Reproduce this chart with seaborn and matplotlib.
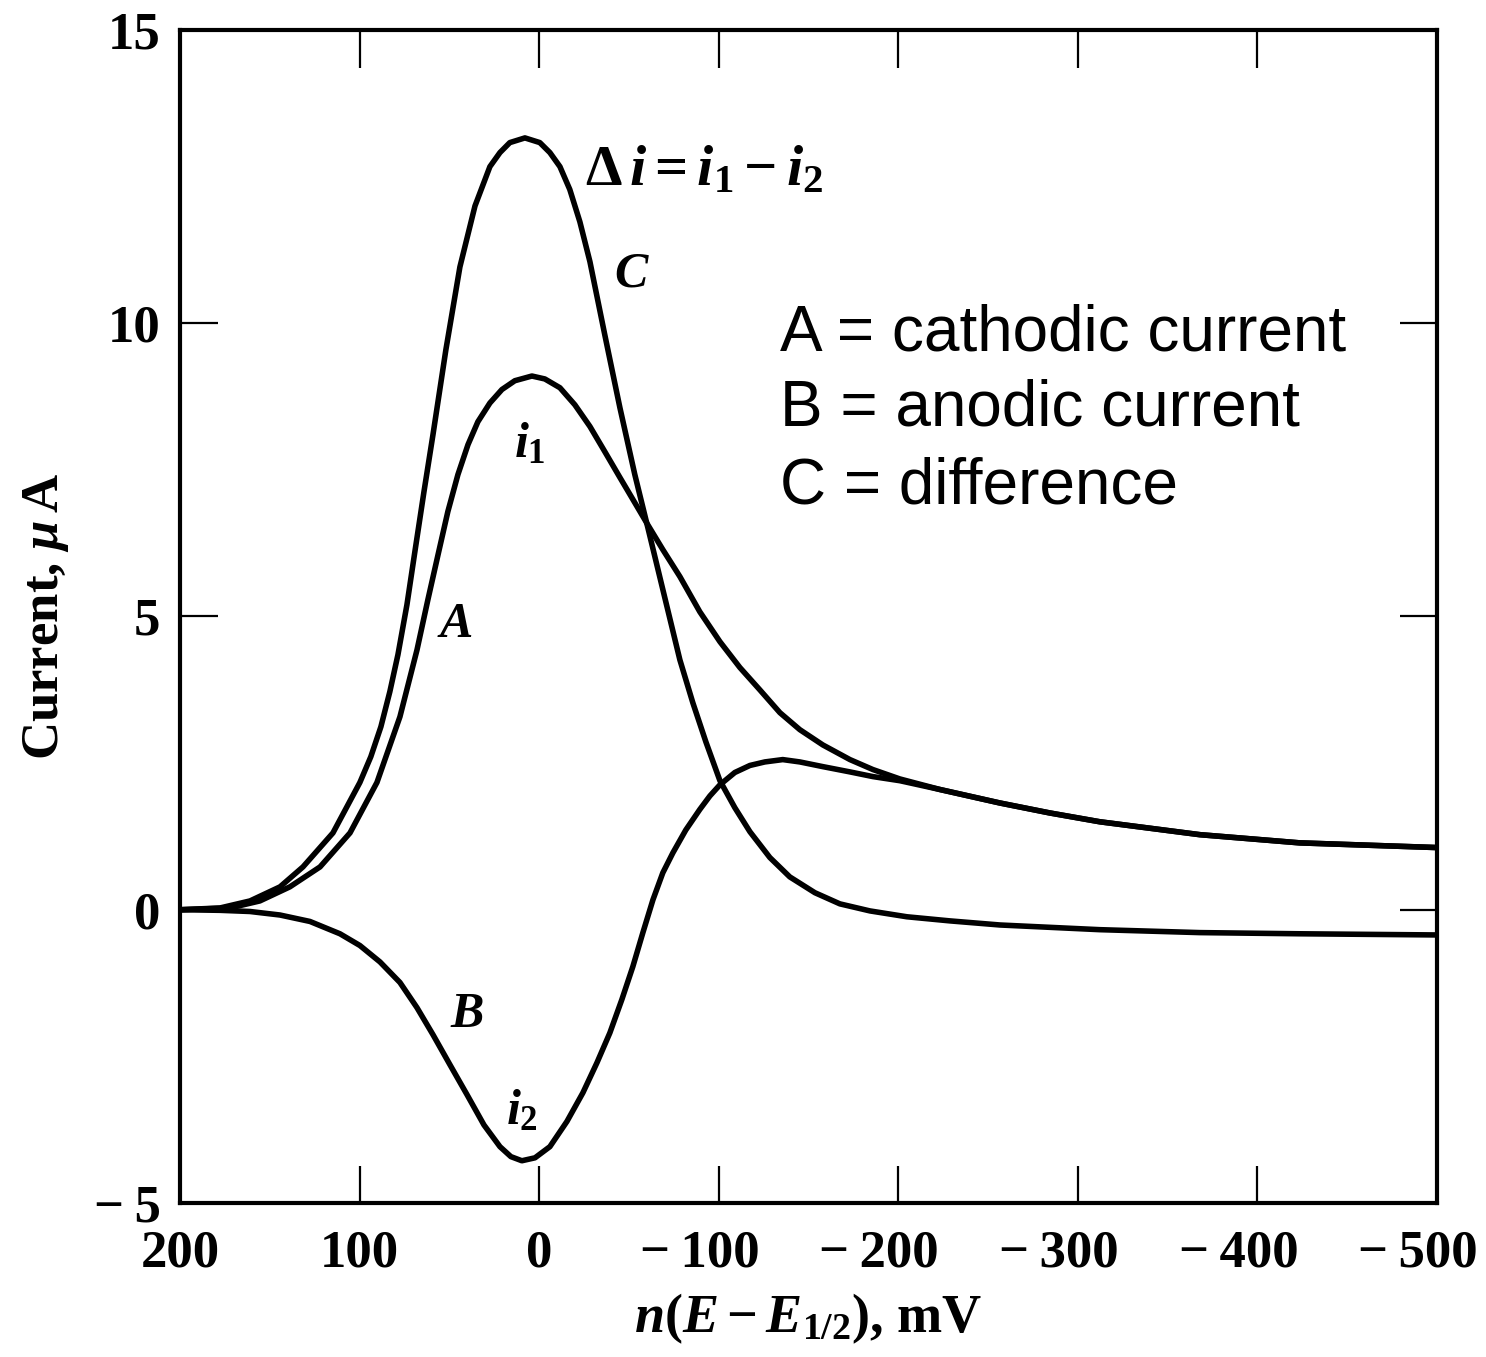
import matplotlib
matplotlib.use("Agg")
import matplotlib.pyplot as plt
import matplotlib.transforms as mtransforms
import seaborn as sns
import pandas as pd

# ---- data (x in mV, y in µA) ----
x_A = [200, 172.2, 155.5, 138.8, 122.0, 105.3, 90.3, 77.5, 68.0, 61.9,
       56.3, 50.8, 45.2, 39.6, 34.1, 27.4, 20.7, 13.5, 4.0, -3.2,
       -11.6, -19.9, -28.3, -36.6, -45.0, -53.3, -60.6, -68.9, -78.4, -89.5,
       -100.7, -111.8, -122.9, -134.1, -145.2, -158.0, -173.1, -185.9, -200.9, -223.2,
       -256.6, -284.4, -312.2, -367.9, -423.6, -500]
y_A = [0, 0.03, 0.15, 0.39, 0.73, 1.31, 2.17, 3.29, 4.43, 5.29,
       6.05, 6.79, 7.42, 7.93, 8.32, 8.64, 8.87, 9.02, 9.10, 9.05,
       8.90, 8.61, 8.24, 7.81, 7.37, 6.94, 6.56, 6.14, 5.68, 5.08,
       4.57, 4.13, 3.75, 3.36, 3.07, 2.81, 2.56, 2.39, 2.23, 2.05,
       1.82, 1.65, 1.50, 1.28, 1.14, 1.06]

x_B = [200, 177.7, 161.0, 144.3, 127.6, 110.9, 99.8, 88.6, 77.5, 68.0,
       59.1, 49.7, 40.2, 30.7, 21.8, 15.7, 9.6, 2.3, -6.0, -15.5,
       -24.4, -32.2, -39.4, -46.1, -52.2, -57.8, -63.4, -68.9, -74.5, -81.7,
       -89.5, -95.1, -100.7, -109.0, -117.4, -125.7, -135.7, -145.2, -158.0, -173.1,
       -185.9, -200.9, -223.2, -256.6, -284.4, -312.2, -367.9, -423.6, -500]
y_B = [0, -0.01, -0.03, -0.09, -0.20, -0.41, -0.61, -0.89, -1.24, -1.67,
       -2.13, -2.64, -3.15, -3.67, -4.04, -4.21, -4.28, -4.23, -4.04, -3.61,
       -3.12, -2.61, -2.10, -1.53, -0.97, -0.39, 0.17, 0.63, 0.97, 1.36,
       1.71, 1.94, 2.13, 2.34, 2.46, 2.52, 2.56, 2.52, 2.44, 2.35,
       2.27, 2.20, 2.05, 1.82, 1.65, 1.50, 1.28, 1.14, 1.06]

x_C = [200, 177.7, 161.0, 144.3, 131.5, 114.8, 99.8, 93.7, 88.1, 83.1,
       78.6, 73.6, 69.2, 64.1, 59.1, 51.9, 44.1, 35.7, 27.4, 21.8,
       16.3, 7.9, -0.4, -6.0, -11.6, -17.1, -22.7, -28.3, -36.6, -45.0,
       -53.3, -60.6, -68.9, -78.4, -85.6, -92.9, -100.7, -109.0, -117.4, -128.5,
       -139.6, -153.6, -167.5, -184.2, -204.8, -228.7, -256.6, -312.2, -367.9, -423.6,
       -500]
y_C = [0, 0.03, 0.15, 0.39, 0.73, 1.31, 2.17, 2.61, 3.12, 3.72,
       4.35, 5.20, 6.10, 7.13, 8.10, 9.55, 10.96, 12.00, 12.67, 12.91,
       13.08, 13.16, 13.08, 12.91, 12.67, 12.28, 11.73, 11.05, 9.80, 8.56,
       7.42, 6.51, 5.46, 4.26, 3.53, 2.86, 2.20, 1.74, 1.33, 0.89,
       0.56, 0.29, 0.10, -0.02, -0.12, -0.19, -0.26, -0.34, -0.39, -0.41,
       -0.43]

x_ticks = [200, 100, 0, -100, -200, -300, -400, -500]
x_ticklabels = ["200", "100", "0", "\u2212\u2009100", "\u2212\u2009200",
                "\u2212\u2009300", "\u2212\u2009400", "\u2212\u2009500"]
y_ticks = [-5, 0, 5, 10, 15]
y_ticklabels = ["\u2212\u20095", "0", "5", "10", "15"]

legend_lines = ["A = cathodic current", "B = anodic current", "C = difference"]

# ---- build long table ----
df = pd.concat([
    pd.DataFrame({"E": x_A, "I": y_A, "curve": "A"}),
    pd.DataFrame({"E": x_B, "I": y_B, "curve": "B"}),
    pd.DataFrame({"E": x_C, "I": y_C, "curve": "C"}),
], ignore_index=True)

sns.set_style("ticks")
plt.rcParams["font.family"] = ["Liberation Serif", "DejaVu Serif"]
plt.rcParams["mathtext.fontset"] = "custom"
plt.rcParams["mathtext.rm"] = "Liberation Serif:bold"
plt.rcParams["mathtext.it"] = "Liberation Serif:italic:bold"
plt.rcParams["mathtext.bf"] = "Liberation Serif:bold"
for k in ["text.color", "axes.labelcolor", "xtick.color", "ytick.color", "axes.edgecolor"]:
    plt.rcParams[k] = "black"

fig = plt.figure(figsize=(14.86, 13.57), dpi=100)
ax = fig.add_axes([0.1211, 0.1135, 0.8459, 0.8644])

sns.lineplot(data=df, x="E", y="I", hue="curve", palette=["black"] * 3,
             sort=False, estimator=None, legend=False, linewidth=4.0, ax=ax)
for ln in ax.get_lines():
    ln.set_solid_joinstyle("round")
    ln.set_solid_capstyle("round")

ax.set_xlim(200, -500)
ax.set_ylim(-5, 15)
ax.set_xticks(x_ticks)
ax.set_xticklabels(x_ticklabels)
ax.set_yticks(y_ticks)
ax.set_yticklabels(y_ticklabels)

for s in ax.spines.values():
    s.set_visible(True)
    s.set_linewidth(3)
    s.set_color("black")

ax.tick_params(axis="both", direction="in", length=27, width=1.6, color="black",
               top=True, right=True, labelsize=38)
ax.tick_params(axis="x", pad=19)
ax.tick_params(axis="y", pad=14)
for lab in ax.get_xticklabels() + ax.get_yticklabels():
    lab.set_fontweight("bold")

# keep the digits of negative labels centred on their ticks (minus hangs left)
shift = mtransforms.ScaledTranslation(-0.19, 0, fig.dpi_scale_trans)
for lab, txt in zip(ax.get_xticklabels(), x_ticklabels):
    if txt.startswith("\u2212"):
        lab.set_transform(lab.get_transform() + shift)

ax.set_xlabel(r"$n(E-E_{1/2})$, mV", fontsize=39, fontweight="bold", labelpad=10)
ax.set_ylabel(r"Current, $\mu\,$A", fontsize=38, fontweight="bold", labelpad=16)

# curve annotations
ax.text(-25.5, 12.6, r"$\Delta\, i = i_1 - i_2$", ha="left", va="center", fontsize=42)
ax.text(-51.7, 10.83, r"$C$", fontsize=36, ha="center", va="center")
ax.text(5.1, 7.93, r"$i_1$", fontsize=36, ha="center", va="center")
ax.text(46.9, 4.86, r"$A$", fontsize=36, ha="center", va="center")
ax.text(40.2, -1.79, r"$B$", fontsize=36, ha="center", va="center")
ax.text(9.6, -3.44, r"$i_2$", fontsize=36, ha="center", va="center")

# explanatory text block
for line, yv in zip(legend_lines, [9.82, 8.55, 7.22]):
    ax.text(-134.1, yv, line, fontsize=46, family=["Liberation Sans", "DejaVu Sans"],
            ha="left", va="center", color="black")

fig.savefig("out.png", dpi=100, facecolor="white")
